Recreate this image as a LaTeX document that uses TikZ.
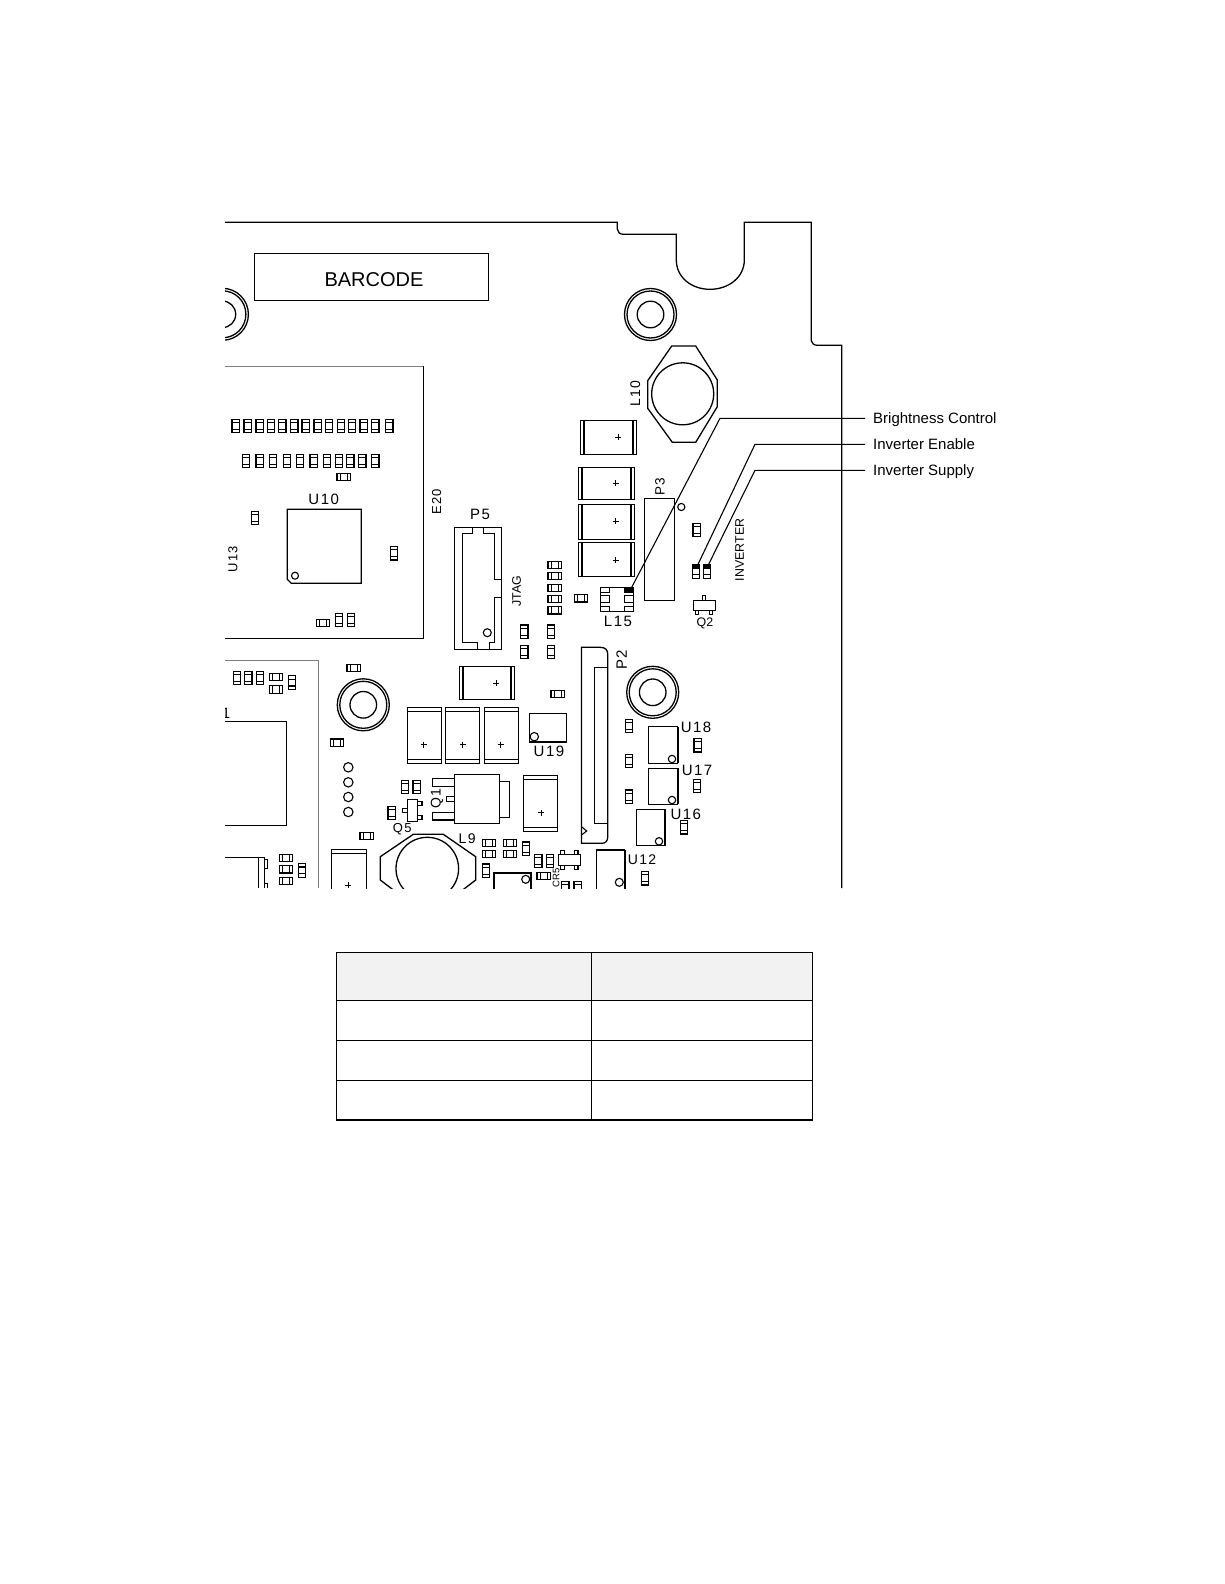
\documentclass[tikz,border=0pt]{standalone}
\usepackage{fontspec}
\newfontfamily\calloutfont{Liberation Sans}
\newfontfamily\silkfont[LetterSpace=10]{Liberation Sans}

\tikzstyle{part} = [draw, line width=1.3pt]
\tikzstyle{thinpart} = [draw, line width=1.1pt]
\tikzstyle{grayline} = [draw, gray, line width=1.3pt]
\tikzstyle{line} = [draw, line width=1.1pt]
\tikzstyle{callout} = [font=\calloutfont\fontsize{15}{15}\selectfont, anchor=west, inner xsep=8pt, inner ysep=0pt, text height=13pt, text depth=3pt]
\tikzstyle{silk} = [font=\silkfont\fontsize{15}{15}\selectfont, inner sep=0pt]
\tikzstyle{silksmall} = [font=\calloutfont\fontsize{12.4}{12.4}\selectfont, inner sep=0pt]

% chips: left edge, top edge
\newcommand{\vchip}[2]{
	\draw[thinpart] (#1,#2) rectangle ++(7.3,13.3);
	\draw[thinpart] (#1,#2+3.2) -- ++(7.3,0) (#1,#2+10.1) -- ++(7.3,0);
}
\newcommand{\hchip}[2]{
	\draw[thinpart] (#1,#2) rectangle ++(13.3,7.3);
	\draw[thinpart] (#1+3.2,#2) -- ++(0,7.3) (#1+10.1,#2) -- ++(0,7.3);
}
% mounting hole: centre
\newcommand{\mounthole}[2]{
	\draw[part] (#1,#2) circle (26pt) (#1,#2) circle (23.5pt) (#1,#2) circle (13.3pt);
}
% capacitor: left, top, right, bottom
\newcommand{\hcap}[4]{
	\draw[part] (#1,#2) rectangle (#3,#4);
	\draw[part] (#1+3.6,#2) -- (#1+3.6,#4) (#3-3.6,#2) -- (#3-3.6,#4);
}
\newcommand{\vcap}[4]{
	\draw[part] (#1,#2) rectangle (#3,#4);
	\draw[part] (#1,#2+4) -- (#3,#2+4) (#1,#4-4) -- (#3,#4-4);
}
\newcommand{\plusmark}[2]{
	\draw[line width=.8pt] (#1-3,#2) -- (#1+3,#2) (#1,#2-3) -- (#1,#2+3);
}

\begin{document}
\begin{tikzpicture}[x=1pt, y=-1pt]
	\path[fill=white] (0,0) rectangle (1224,1584);
	\useasboundingbox (0,0) rectangle (1224,1584);

	%Board outline
	\draw[part] (225,222.3) -- (617.3,222.3) -- (617.3,229) .. controls (617.3,232) and (620,234.3) .. (623.3,234.3)
		-- (676.3,234.3) -- (676.3,260) .. controls (676.3,277) and (691,289.3) .. (710,289.3)
		.. controls (729,289.3) and (744.3,277) .. (744.3,260) -- (744.3,222.3) -- (811.3,222.3) -- (811.3,340.7)
		.. controls (811.3,343) and (814,345.3) .. (817.3,345.3) -- (841.7,345.3) -- (841.7,888);

	\begin{scope}
	\clip (225,210) rectangle (850,888);

	%Top left
	\draw[part] (254.3,253.3) rectangle (488.3,300.3);
	\node [font=\calloutfont\fontsize{20}{20}\selectfont, inner sep=0pt] (barcode) at (374,279.7) {BARCODE};
	\mounthole{222.4}{314.3}
	\mounthole{650.5}{314.5}

	%U13 block
	\draw[grayline] (225,366.3) -- (423.3,366.3);
	\draw[part] (423.3,366.3) -- (423.3,638.3) -- (225,638.3);
	\foreach \cx in {232,244,256,267.3,278.7,290.7,302,314,325.3,337.3,348.3,360,371.7,385.7}
		{\vchip{\cx}{419.5}}
	\foreach \cx in {242.3,256,269.3,283.3,296.3,310,323.3,335.3,346.7,358.7,371.7}
		{\vchip{\cx}{454.3}}
	\hchip{337}{473.3}
	\draw[part] (287.3,509.3) -- (361.3,509.3) -- (361.3,583.3) -- (291.3,583.3) -- (287.3,579.3) -- cycle;
	\draw[thinpart] (295,575.7) circle (3.5pt);
	\node [silk] (u10) at (323.7,499) {U10};
	\vchip{251.3}{511.3}
	\vchip{390.5}{546.7}
	\hchip{316.3}{619.3}
	\vchip{335.5}{613.3}
	\vchip{347.5}{613.3}
	\node [silk, font=\silkfont\fontsize{13}{13}\selectfont, rotate=90] (u13) at (233,559.3) {U13};
	\node [silk, font=\silkfont\fontsize{13}{13}\selectfont, rotate=90] (e20) at (436.7,501.7) {E20};

	%P5
	\node [silk] (p5) at (480,514) {P5};
	\draw[part] (454.3,527.7) rectangle (501.3,649.3);
	\draw[part] (472.7,527.7) -- (472.7,533.3) -- (462.3,533.3) -- (462.3,642.7) -- (477.7,642.7) -- (477.7,649.3);
	\draw[part] (489.3,649.3) -- (489.3,642.7) -- (494.3,642.7) -- (494.3,597.3) -- (501.3,597.3);
	\draw[part] (501.3,579.3) -- (494.3,579.3) -- (494.3,533.3) -- (483.7,533.3) -- (483.7,527.7);
	\draw[thinpart] (487.3,632.7) circle (4pt);
	\node [silksmall, rotate=90] (jtag) at (516.5,591) {JTAG};

	%Chips next to P5
	\vchip{520.7}{625}
	\vchip{520.7}{645.5}
	\vchip{547.5}{625}
	\vchip{547.5}{645.5}
	\foreach \cy in {561.3,572.5,584.2,595.4,606.7}
		{\hchip{548}{\cy}}
	\hchip{574.5}{594.7}

	%Large capacitors
	\hcap{580.3}{420.3}{636.7}{454.3}
	\plusmark{618}{437.3}
	\hcap{578.3}{467.3}{634.7}{499.3}
	\plusmark{615.7}{483}
	\hcap{578.3}{504.3}{634.7}{539.3}
	\plusmark{615.7}{521.3}
	\hcap{578.3}{542.7}{634.7}{576.3}
	\plusmark{615.7}{560.3}

	%L10
	\draw[part] (671.7,346) -- (695.7,346) -- (717.3,380) -- (717.3,406.7) -- (695.7,442.3) -- (672.3,442.3)
		-- (647.7,408.3) -- (647.7,380.7) -- cycle;
	\draw[part] (682.7,393.8) circle (31pt);
	\node [silk, font=\silkfont\fontsize{14}{14}\selectfont, rotate=90] (l10) at (635.3,393.8) {L10};

	%P3
	\draw[part] (644.3,498.3) rectangle (674.7,600.3);
	\draw[thinpart] (681.3,507) circle (3.6pt);
	\node [silk, font=\silkfont\fontsize{13.5}{13.5}\selectfont, rotate=90] (p3) at (660,487) {P3};
	\vchip{693}{523.3}

	%L15
	\draw[part] (600.3,587.3) rectangle (633.7,611.7);
	\draw[thinpart] (600.3,592.7) -- (609.7,592.7) -- (609.7,587.3);
	\draw[thinpart] (600.3,595.3) -- (609.7,595.3) -- (609.7,602.7) -- (600.3,602.7);
	\draw[thinpart] (600.3,606.7) -- (609.7,606.7) -- (609.7,611.7);
	\fill (624.3,587.3) rectangle (633.7,593);
	\draw[thinpart] (633.7,595.3) -- (624.3,595.3) -- (624.3,602.7) -- (633.7,602.7);
	\draw[thinpart] (633.7,606.7) -- (624.3,606.7) -- (624.3,611.7);
	\node [silk] (l15) at (618,621) {L15};

	%Inverter connector
	\vchip{692.3}{564.8}
	\vchip{703.4}{564.8}
	\fill (692.3,564.8) rectangle ++(7.3,3.6);
	\fill (703.4,564.8) rectangle ++(7.3,3.6);
	\node [silksmall] [rotate=90] (inverter) at (739.7,550) {INVERTER};

	%Q2
	\draw[part] (693.3,600.3) rectangle (715.7,610.3);
	\draw[thinpart] (702.3,600.3) -- (702.3,595.7) -- (705.7,595.7) -- (705.7,600.3);
	\draw[thinpart] (695.3,610.3) -- (695.3,614.3) -- (698.7,614.3) -- (698.7,610.3);
	\draw[thinpart] (709.3,610.3) -- (709.3,614.3) -- (712.7,614.3) -- (712.7,610.3);
	\node [silksmall] (q2) at (705,623.3) {Q2};

	%Second block
	\draw[grayline] (225,660.7) -- (318.7,660.7) -- (318.7,888);
	\vchip{233.3}{671.3}
	\vchip{244.7}{671.3}
	\vchip{256.3}{671.3}
	\hchip{269.3}{673.5}
	\hchip{269.3}{685.8}
	\vchip{288.3}{675.9}
	\node [silk] (one) at (226,713) {1};
	\draw[part] (225,721.3) -- (286.3,721.3) -- (286.3,825.3) -- (225,825.3);
	\draw[part] (225,857.3) -- (264.3,857.3) -- (264.3,888);
	\draw[part] (258.3,857.3) -- (258.3,888);
	\draw[thinpart] (264.3,859.3) -- (267.3,859.3) -- (267.3,868.3) -- (264.3,868.3);
	\draw[thinpart] (264.3,883.3) -- (267.3,883.3) -- (267.3,888);
	\hchip{279.3}{854.3}
	\hchip{279.3}{865.7}
	\hchip{279.3}{877.5}
	\vchip{298.3}{863.8}

	%Middle column
	\hchip{347}{664.3}
	\mounthole{363.3}{704.8}
	\hchip{330.5}{739}
	\foreach \cy in {767.3,782.3,797,812}
		{\draw[thinpart] (348.3,\cy) circle (4.7pt);}
	\hchip{360}{832.4}
	\vcap{331.3}{849.3}{366.3}{900}
	\plusmark{348.3}{885}

	%Capacitors
	\hcap{459.3}{666.3}{514.7}{699.7}
	\plusmark{496.3}{683}
	\vcap{407.3}{707.3}{441.7}{763.7}
	\plusmark{423.7}{744.7}
	\vcap{445.7}{707.3}{479.7}{763.7}
	\plusmark{462.7}{744.7}
	\vcap{484.3}{707.3}{518.7}{763.7}
	\plusmark{500.7}{744.7}
	\vcap{523.3}{775.3}{557.7}{831.7}
	\plusmark{541.3}{812.7}
	\hchip{551}{690.3}

	%U19
	\draw[part] (529.3,713.3) rectangle (566.7,742);
	\draw[line width=1.8pt] (529.3,742) -- (566.7,742);
	\draw[thinpart] (534.3,736.7) circle (4.2pt);
	\node [silk] (u19) at (549,751) {U19};

	%Q1
	\draw[part] (454.3,774.7) rectangle (499.3,823.3);
	\draw[part] (499.3,781.3) -- (509.7,781.3) -- (509.7,817.3) -- (499.3,817.3);
	\draw[part] (454.3,778.3) -- (432.3,778.3) -- (432.3,786.3) -- (454.3,786.3);
	\draw[part] (454.3,812.3) -- (432.3,812.3) -- (432.3,820) -- (454.3,820);
	\draw[part] (454.3,796.3) -- (446.3,796.3) -- (446.3,801.7) -- (454.3,801.7);
	\node [silk, font=\silkfont\fontsize{14}{14}\selectfont, rotate=90] (q1) at (437,798.7) {Q1};

	%Q5
	\draw[part] (407.3,799.3) rectangle (417.7,821.7);
	\draw[thinpart] (407.3,808.7) -- (402.3,808.7) -- (402.3,812.7) -- (407.3,812.7);
	\draw[thinpart] (417.7,801.3) -- (422,801.3) -- (422,805.3) -- (417.7,805.3);
	\draw[thinpart] (417.7,815.7) -- (422,815.7) -- (422,819.7) -- (417.7,819.7);
	\vchip{401.3}{780.3}
	\vchip{413}{780.3}
	\vchip{388}{806.3}
	\node [silk, font=\silkfont\fontsize{13}{13}\selectfont] (q5) at (402.3,829) {Q5};

	%L9
	\draw[part] (380.3,880) -- (380.3,856.7) -- (413.3,834.3) -- (443.3,834.3) -- (475.7,856.7) -- (475.7,880) -- (460,892) (380.3,880) -- (396,892);
	\draw[part] (427.3,868.6) circle (31.3pt);
	\node [silk, font=\silkfont\fontsize{14}{14}\selectfont] (l9) at (467.2,838.3) {L9};

	%Chips at the bottom
	\hchip{482.3}{839.3}
	\hchip{482.3}{850.3}
	\hchip{503.3}{839.3}
	\hchip{503.3}{850.3}
	\vchip{522.2}{842}
	\vchip{534.7}{854.2}
	\vchip{546.3}{854.2}
	\vchip{482.3}{864}
	\hchip{537}{872.4}
	\draw[part] (558.3,854.7) rectangle (580.3,865.3);
	\draw[thinpart] (560.7,854.7) -- (560.7,850.3) -- (564.3,850.3) -- (564.3,854.7);
	\draw[thinpart] (574.3,854.7) -- (574.3,850.3) -- (578,850.3) -- (578,854.7);
	\draw[thinpart] (560.7,865.3) -- (560.7,869.7) -- (564.3,869.7) -- (564.3,865.3);
	\draw[thinpart] (574.3,865.3) -- (574.3,869.7) -- (578,869.7) -- (578,865.3);
	\draw[line width=1.8pt] (494.3,900) -- (494.3,873.3) -- (530.7,873.3) -- (530.7,900);
	\draw[thinpart] (525.7,879.3) circle (4pt);
	\node [font=\calloutfont\fontsize{9.5}{9.5}\selectfont, inner sep=0pt, rotate=90] (cr5) at (556,877.5) {CR5};
	\vchip{561.7}{881.7}
	\vchip{574}{881.7}

	%P2
	\draw[part] (600,647.3) -- (581.5,647.3) -- (581.5,843.3) -- (602,843.3)
		.. controls (605.5,843.3) and (607.7,841) .. (607.7,837) -- (607.7,654)
		.. controls (607.7,650) and (605.5,647.3) .. (600,647.3);
	\draw[part] (607.7,667.3) -- (594.3,667.3) -- (594.3,823.3) -- (607.7,823.3);
	\draw[thinpart] (581.5,826.7) -- (586.7,831) -- (581.5,835);
	\node [silk, rotate=90] (p2) at (621.7,659.7) {P2};
	\mounthole{652.7}{692.3}
	\vchip{625.3}{719.5}
	\vchip{625.3}{754.2}
	\vchip{625.3}{790}

	%U18 to U12
	\draw[part] (648.3,726.7) rectangle (677.7,763.3);
	\draw[line width=1.8pt] (677.7,726.7) -- (677.7,763.3);
	\draw[thinpart] (672,759) circle (3.7pt);
	\node [silk] (u18) at (696,727) {U18};
	\vchip{694}{738.7}
	\draw[part] (648.3,768.3) rectangle (677.7,804.3);
	\draw[line width=1.8pt] (677.7,768.3) -- (677.7,804.3);
	\draw[thinpart] (672,800) circle (3.7pt);
	\node [silk] (u17) at (697,770) {U17};
	\vchip{693.3}{779.5}
	\draw[part] (636.3,809.3) rectangle (665.3,845.3);
	\draw[line width=1.8pt] (665.3,809.3) -- (665.3,845.3);
	\draw[thinpart] (659,841.3) circle (3.7pt);
	\node [silk] (u16) at (685.8,814.5) {U16};
	\vchip{680.4}{820.7}
	\draw[thinpart] (596.3,900) -- (596.3,850) -- (625.3,850);
	\draw[line width=1.8pt] (625.3,850) -- (625.3,900);
	\draw[thinpart] (619.3,882.3) circle (4pt);
	\node [silk, font=\silkfont\fontsize{14}{14}\selectfont] (u12) at (642,860) {U12};
	\vchip{641.5}{871.7}
	\end{scope}

	%Callouts
	\node [callout] (brightness) at (865,418.3) {Brightness Control};
	\node [callout] (enable) at (865,444.3) {Inverter Enable};
	\node [callout] (supply) at (865,470.3) {Inverter Supply};
	\coordinate (padl15) at (631.7,587.3);
	\coordinate (padenable) at (697.7,565);
	\coordinate (padsupply) at (708.3,565);
	\path [line] (padl15) -- (720,418.3) -- (brightness.west);
	\path [line] (padenable) -- (755,444.3) -- (enable.west);
	\path [line] (padsupply) -- (755,470.3) -- (supply.west);

	%Table
	\fill[black!5] (336.7,952.7) rectangle (812.7,1000.3);
	\draw[part] (336.7,952.7) rectangle (812.7,1120);
	\draw[part] (591.7,952.7) -- (591.7,1120);
	\foreach \cy in {1000.3,1040.3,1080.3}
		{\draw[part] (336.7,\cy) -- (812.7,\cy);}
\end{tikzpicture}
\end{document}
